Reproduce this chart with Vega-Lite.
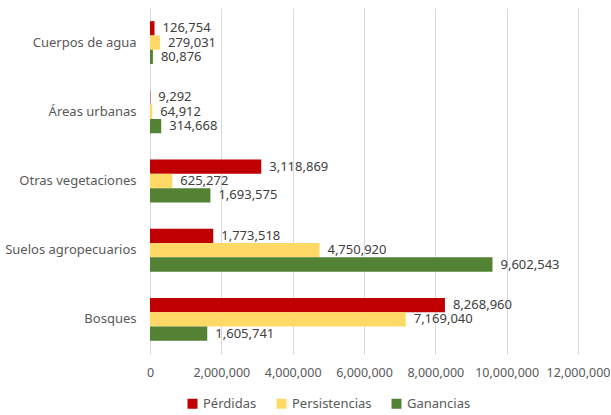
{
  "$schema": "https://vega.github.io/schema/vega-lite/v6.json",
  "autosize": {"type": "none"},
  "width": 428,
  "height": 346,
  "padding": {"left": 150, "top": 8, "right": 33, "bottom": 61},
  "background": "white",
  "config": {
    "font": "Noto Sans",
    "view": {"stroke": null}
  },
  "data": {
    "values": [
      {"categoria": "Cuerpos de agua", "tipo": "Pérdidas", "valor": 126754},
      {"categoria": "Cuerpos de agua", "tipo": "Persistencias", "valor": 279031},
      {"categoria": "Cuerpos de agua", "tipo": "Ganancias", "valor": 80876},
      {"categoria": "Áreas urbanas", "tipo": "Pérdidas", "valor": 9292},
      {"categoria": "Áreas urbanas", "tipo": "Persistencias", "valor": 64912},
      {"categoria": "Áreas urbanas", "tipo": "Ganancias", "valor": 314668},
      {"categoria": "Otras vegetaciones", "tipo": "Pérdidas", "valor": 3118869},
      {"categoria": "Otras vegetaciones", "tipo": "Persistencias", "valor": 625272},
      {"categoria": "Otras vegetaciones", "tipo": "Ganancias", "valor": 1693575},
      {"categoria": "Suelos agropecuarios", "tipo": "Pérdidas", "valor": 1773518},
      {"categoria": "Suelos agropecuarios", "tipo": "Persistencias", "valor": 4750920},
      {"categoria": "Suelos agropecuarios", "tipo": "Ganancias", "valor": 9602543},
      {"categoria": "Bosques", "tipo": "Pérdidas", "valor": 8268960},
      {"categoria": "Bosques", "tipo": "Persistencias", "valor": 7169040},
      {"categoria": "Bosques", "tipo": "Ganancias", "valor": 1605741}
    ]
  },
  "encoding": {
    "y": {
      "field": "categoria",
      "type": "nominal",
      "sort": ["Cuerpos de agua", "Áreas urbanas", "Otras vegetaciones", "Suelos agropecuarios", "Bosques"],
      "scale": {"paddingInner": 0.38, "paddingOuter": 0.19},
      "axis": {
        "title": null,
        "ticks": false,
        "domain": false,
        "labelFontSize": 13,
        "labelColor": "#595959",
        "labelPadding": 14,
        "labelFont": "Noto Sans"
      }
    },
    "yOffset": {
      "field": "tipo",
      "type": "nominal",
      "sort": ["Pérdidas", "Persistencias", "Ganancias"],
      "scale": {"paddingInner": 0, "paddingOuter": 0}
    },
    "x": {
      "field": "valor",
      "type": "quantitative",
      "scale": {"domain": [0, 12000000], "nice": false},
      "axis": {
        "title": null,
        "values": [0, 2000000, 4000000, 6000000, 8000000, 10000000, 12000000],
        "format": ",d",
        "ticks": false,
        "domain": false,
        "grid": true,
        "gridColor": "#d9d9d9",
        "gridWidth": 1,
        "labelFontSize": 12.5,
        "labelColor": "#595959",
        "labelPadding": 12,
        "labelOverlap": false,
        "labelBound": false,
        "labelFlush": false,
        "labelFont": "Noto Sans"
      }
    }
  },
  "layer": [
    {
      "mark": {"type": "bar"},
      "encoding": {
        "color": {
          "field": "tipo",
          "type": "nominal",
          "sort": ["Pérdidas", "Persistencias", "Ganancias"],
          "scale": {
            "domain": ["Pérdidas", "Persistencias", "Ganancias"],
            "range": ["#C00000", "#FFD966", "#548235"]
          },
          "legend": {
            "title": null,
            "orient": "none",
            "direction": "horizontal",
            "legendX": 36,
            "legendY": 389,
            "symbolType": "square",
            "symbolSize": 100,
            "symbolStrokeWidth": 0,
            "labelFontSize": 13,
            "labelColor": "#595959",
            "labelFont": "Noto Sans",
            "columnPadding": 18,
            "labelOffset": 4
          }
        }
      }
    },
    {
      "mark": {"type": "text", "align": "left", "baseline": "middle", "dx": 8, "fontSize": 13, "color": "#404040", "font": "Noto Sans"},
      "encoding": {
        "text": {"field": "valor", "type": "quantitative", "format": ",d"}
      }
    }
  ]
}
